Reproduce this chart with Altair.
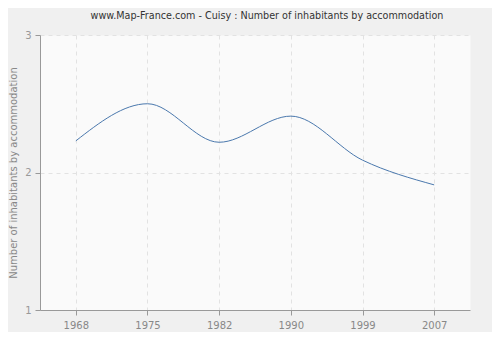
import altair as alt
import pandas as pd

years = ["1968", "1975", "1982", "1990", "1999", "2007"]
values = [2.23, 2.50, 2.22, 2.41, 2.09, 1.91]

df = pd.DataFrame({"year": years, "value": values})

line = alt.Chart(df).mark_line(
    interpolate="monotone", color="#4a78ad", strokeWidth=1
).encode(
    x=alt.X(
        "year:O",
        scale=alt.Scale(type="point", padding=0.5),
        axis=alt.Axis(
            title=None, labelAngle=0, grid=True, gridDash=[4, 4], gridColor="#e2e2e2",
            domainColor="#999999", tickColor="#999999", tickSize=5,
            labelColor="#888888", labelFont="DejaVu Sans", labelFontSize=10, labelPadding=5,
        ),
    ),
    y=alt.Y(
        "value:Q",
        scale=alt.Scale(domain=[1, 3], nice=False, zero=False),
        axis=alt.Axis(
            title="Number of inhabitants by accommodation", tickCount=2, format="d",
            labelOverlap=False,
            grid=True, gridDash=[4, 4], gridColor="#e2e2e2",
            domainColor="#999999", tickColor="#999999", tickSize=5,
            labelColor="#999999", labelFont="DejaVu Sans", labelFontSize=10, labelPadding=4,
            titleColor="#888888", titleFont="DejaVu Sans", titleFontSize=10,
            titleFontWeight="normal", titlePadding=6,
        ),
    ),
).properties(
    width=430,
    height=275,
    title=alt.TitleParams(
        "www.Map-France.com - Cuisy : Number of inhabitants by accommodation",
        font="DejaVu Sans", fontSize=9.6, fontWeight="normal", color="#333333",
        anchor="middle", offset=9, dx=12,
    ),
    autosize="none",
    padding={"left": 32, "top": 27, "right": 22, "bottom": 22},
    background="#f0f0f0",
).configure_view(
    fill="#fafafa", stroke="transparent"
)

line.save("out.html", embed_options={"renderer": "svg", "actions": False})
